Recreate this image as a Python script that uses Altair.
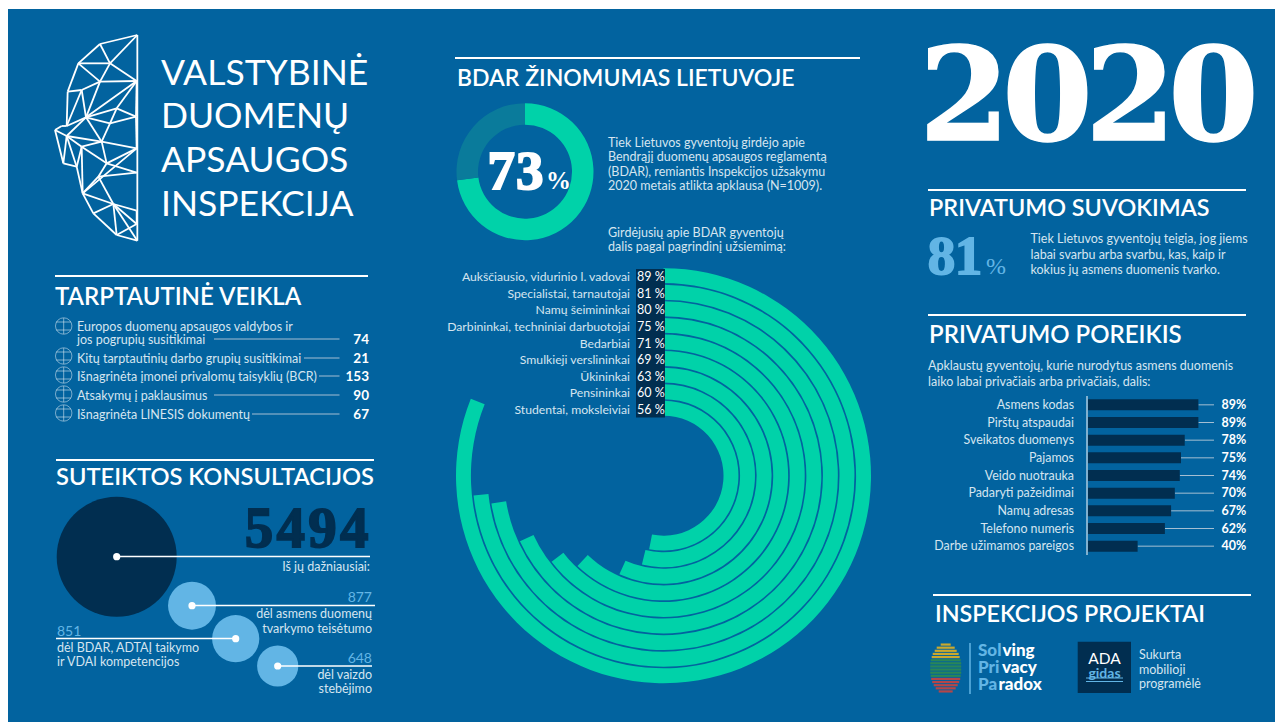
import altair as alt
import pandas as pd

BLUE = "#02639f"; TEAL = "#00d2a9"; NAVY = "#012e50"; SKY = "#62b5e5"; DIM = "#0a7b9b"
BODY = "#d5e5f0"; LEAD = "#a4bfd3"; WHITE = "#ffffff"
SANS = "Lato"; SERIF = "Liberation Serif"
OX, OY = 8, 9

# ---- data
awareness = [73, 27]
awareness_colors = [TEAL, DIM]
ring_names = ["Aukščiausio, vidurinio l. vadovai", "Specialistai, tarnautojai", "Namų šeimininkai",
              "Darbininkai, techniniai darbuotojai", "Bedarbiai", "Smulkieji verslininkai",
              "Ūkininkai", "Pensininkai", "Studentai, moksleiviai"]
ring_labels = [89, 81, 80, 75, 71, 69, 63, 60, 56]
ring_drawn = [89.5, 81, 80, 75.3, 71.3, 68.6, 62.6, 59.4, 58.6]
need_names = ["Asmens kodas", "Pirštų atspaudai", "Sveikatos duomenys", "Pajamos", "Veido nuotrauka",
              "Padaryti pažeidimai", "Namų adresas", "Telefono numeris", "Darbe užimamos pareigos"]
need_values = [89, 89, 78, 75, 74, 70, 67, 62, 40]
intl_values = [74, 21, 153, 90, 67]
intl_lines = [["Europos duomenų apsaugos valdybos ir", "jos pogrupių susitikimai"],
              ["Kitų tarptautinių darbo grupių susitikimai"],
              ["Išnagrinėta įmonei privalomų taisyklių (BCR)"],
              ["Atsakymų į paklausimus"],
              ["Išnagrinėta LINESIS dokumentų"]]
consult_values = [5494, 877, 851, 648]

# ---- layout
intl_y = [339, 358, 376, 395, 414]
intl_lead = [214, 304, 319, 214, 252]
intl_icon_y = [326, 356, 375, 394, 413]
consult_cx = [116.7, 192, 235.7, 277.7]
consult_cy = [556.7, 605.7, 638.7, 666]
logo_nodes = {
    "A": (412, 105), "B": (300, 132), "C": (235, 190), "D": (203, 275), "E": (200, 378), "F": (165, 390),
    "F2": (185, 378), "G": (190, 490), "H": (230, 500), "I": (248, 580), "J": (280, 640), "K": (350, 705),
    "L": (412, 722), "M": (330, 190), "N": (410, 243), "O": (300, 245), "P": (245, 270), "Q": (258, 352),
    "R": (350, 325), "S": (408, 350), "T": (330, 370), "U": (200, 408), "V": (305, 425), "W": (410, 445),
    "X": (245, 440), "Y": (320, 490), "Z": (410, 518), "AA": (295, 530), "AB": (340, 612), "AC": (410, 632),
    "AD": (410, 672),
}
logo_edges = "A-B B-C C-D D-E E-F2 F2-F F-G G-H H-I I-J J-K K-L A-L B-M M-A C-M C-O M-N O-N M-O D-P P-O P-E P-Q O-Q N-Q N-R N-S R-S R-Q Q-T T-R T-S Q-U E-Q U-V Q-V T-V V-W S-W U-X X-V U-H F-U U-G X-H X-Y V-Y Y-W Y-Z W-I X-I I-AA AA-Z I-AB AA-AB Y-AA AB-AC AB-J AB-AD AB-K AC-AD AD-K AB-L".split()
thumb_half = [5, 9, 11, 13, 14, 15, 15.5, 15.5, 15.5, 15.5, 15, 14.5, 13.5, 12, 10, 7]
thumb_cols = ["#e0b020"] * 5 + ["#2e8a50"] * 6 + ["#c8423f"] * 5


def one(**kw):
    return alt.Chart(pd.DataFrame({k: [v] for k, v in kw.items()} or {"a": [0]}))


def txt(s, x, y, size=12.5, color=BODY, font=SANS, weight=400, align="left", baseline="middle"):
    dy = 1 if baseline == "middle" else 0
    return one(t=s).mark_text(font=font, fontSize=size, fontWeight=weight, color=color, align=align,
                              baseline=baseline).encode(text="t:N", x=alt.value(x - OX), y=alt.value(y + dy - OY))


def hline(x1, x2, y, color=WHITE, w=1.5):
    return one().mark_rule(color=color, strokeWidth=w).encode(
        x=alt.value(x1 - OX), x2=alt.value(x2 - OX), y=alt.value(y - OY))


def vline(x, y1, y2, color=WHITE, w=1.5):
    return one().mark_rule(color=color, strokeWidth=w).encode(
        x=alt.value(x - OX), y=alt.value(y1 - OY), y2=alt.value(y2 - OY))


def box(x1, x2, y1, y2, color):
    return one().mark_rect(color=color).encode(
        x=alt.value(x1 - OX), x2=alt.value(x2 - OX), y=alt.value(y1 - OY), y2=alt.value(y2 - OY))


def fat(s, left, right, base, size, color, stroke, font=SERIF):
    df = pd.DataFrame({"i": list(range(len(s))), "c": list(s)})
    return alt.Chart(df).mark_text(font=font, fontWeight="bold", fontSize=size, color=color, stroke=color,
                                   strokeWidth=stroke, baseline="alphabetic").encode(
        text="c:N",
        x=alt.X("i:O", axis=None, scale=alt.Scale(domain=list(range(len(s))), range=[left - OX, right - OX],
                                                  paddingInner=0, paddingOuter=0)),
        y=alt.value(base - OY))


def head(s, x, y, size=23):
    return txt(s, x, y + 1, size=size, color=WHITE, weight=600)


L = []

# ---- logo
edge_df = pd.DataFrame([{"x": logo_nodes[e.split("-")[0]][0], "y": logo_nodes[e.split("-")[0]][1],
                         "x2": logo_nodes[e.split("-")[1]][0], "y2": logo_nodes[e.split("-")[1]][1]}
                        for e in logo_edges])
L.append(alt.Chart(edge_df).mark_rule(color=WHITE, strokeWidth=1.8).encode(
    x=alt.X("x:Q", axis=None, scale=alt.Scale(domain=[0, 1290], range=[-OX, 430 - OX])),
    x2="x2:Q",
    y=alt.Y("y:Q", axis=None, scale=alt.Scale(domain=[0, 780], range=[-OY, 260 - OY])),
    y2="y2:Q"))
for s, y in zip(["VALSTYBINĖ", "DUOMENŲ", "APSAUGOS", "INSPEKCIJA"], [73, 116, 160, 204]):
    L.append(txt(s, 161, y, size=35.5, color=WHITE, weight=400))

# ---- international
L.append(hline(55, 368, 276, w=2))
L.append(head("TARPTAUTINĖ VEIKLA", 55, 296, 24))
L.append(txt(intl_lines[0][0], 77, 326))
for lines, y, x0, v, g in zip(intl_lines, intl_y, intl_lead, intl_values, intl_icon_y):
    L.append(txt(lines[-1], 77, y))
    L.append(hline(x0, 339.5, y, color=LEAD, w=1))
    L.append(txt(str(v), 369, y, size=13.5, color=WHITE, weight=700, align="right"))
    L.append(one(a=1).mark_point(shape="circle", size=270, color=BODY, strokeWidth=0.8, opacity=0.7).encode(
        x=alt.value(63.7 - OX), y=alt.value(g - OY)))
    L.append(hline(56, 71, g - 4, color=BODY, w=0.6))
    L.append(hline(56, 71, g + 4, color=BODY, w=0.6))
    L.append(vline(63.7, g - 8, g + 8, color=BODY, w=0.6))

# ---- consultations
L.append(hline(56, 374, 460, w=2))
L.append(head("SUTEIKTOS KONSULTACIJOS", 56, 476, 23.7))
cdf = pd.DataFrame({"v": consult_values, "cx": [c - OX for c in consult_cx], "cy": [c - OY for c in consult_cy],
                    "c": [NAVY, SKY, SKY, SKY]})
L.append(alt.Chart(cdf).mark_circle(opacity=1).encode(
    x=alt.X("cx:Q", scale=None), y=alt.Y("cy:Q", scale=None),
    size=alt.Size("v:Q", legend=None, scale=alt.Scale(type="linear", domain=[0, 5494], range=[0, 14400])),
    color=alt.Color("c:N", scale=None)))
L.append(hline(116.7, 370, 556.5))
L.append(hline(192, 375, 605.5))
L.append(hline(56, 235.7, 638.5))
L.append(hline(277.7, 372, 666))
L.append(alt.Chart(cdf).mark_circle(opacity=1, size=52, color=WHITE).encode(
    x=alt.X("cx:Q", scale=None), y=alt.Y("cy:Q", scale=None)))
L.append(fat("5494", 243, 370, 547, 57, NAVY, 1.8))
L.append(txt("Iš jų dažniausiai:", 370, 566, align="right"))
L.append(txt("877", 372, 597, size=14, color=SKY, align="right"))
L.append(txt("dėl asmens duomenų", 372, 613, align="right"))
L.append(txt("tvarkymo teisėtumo", 372, 628, align="right"))
L.append(txt("851", 57, 631, size=14, color=SKY))
L.append(txt("dėl BDAR, ADTAĮ taikymo", 57, 647))
L.append(txt("ir VDAI kompetencijos", 57, 661))
L.append(txt("648", 372, 658, size=14, color=SKY, align="right"))
L.append(txt("dėl vaizdo", 372, 674, align="right"))
L.append(txt("stebėjimo", 372, 688, align="right"))

# ---- GDPR awareness
L.append(hline(455, 860, 58, w=2))
L.append(head("BDAR ŽINOMUMAS LIETUVOJE", 457, 77))
adf = pd.DataFrame({"s": [0, awareness[0]], "e": [awareness[0], sum(awareness)], "c": awareness_colors, "a": [47, 47], "b": [68.5, 68.5]})
L.append(alt.Chart(adf).mark_arc().encode(
    theta=alt.Theta("s:Q", stack=None, scale=alt.Scale(domain=[0, 100], range=[0, 6.28318530718])),
    theta2="e:Q",
    radius=alt.Radius("b:Q", scale=None), radius2="a:Q",
    color=alt.Color("c:N", scale=None),
    x=alt.value(525 - OX), y=alt.value(171.7 - OY)))
L.append(fat("73", 487, 544, 189, 55, WHITE, 2))
L.append(txt("%", 546, 189, size=25, color=WHITE, font=SERIF, weight=700, baseline="alphabetic"))
for s, y in zip(["Tiek Lietuvos gyventojų girdėjo apie", "Bendrąjį duomenų apsaugos reglamentą",
                 "(BDAR), remiantis Inspekcijos užsakymu", "2020 metais atlikta apklausa (N=1009)."],
                [142, 156, 171, 185]):
    L.append(txt(s, 608, y))
L.append(txt("Girdėjusių apie BDAR gyventojų", 608, 232))
L.append(txt("dalis pagal pagrindinį užsiemimą:", 608, 246))

# ---- radial bars
n = len(ring_names)
rdf = pd.DataFrame({"name": ring_names, "label": [f"{v} %" for v in ring_labels], "v": ring_drawn,
                    "zero": [0] * n, "r0": [n - 1 - i for i in range(n)], "r1": [n - 1 - i + 0.9 for i in range(n)]})
L.append(alt.Chart(rdf).mark_arc(color=TEAL).encode(
    theta=alt.Theta("zero:Q", stack=None, scale=alt.Scale(domain=[0, 100], range=[0, 5.69])),
    theta2="v:Q",
    radius=alt.Radius("r1:Q", scale=alt.Scale(type="linear", domain=[0, 8.9], range=[60, 207.5], zero=False)),
    radius2="r0:Q",
    x=alt.value(663.5 - OX), y=alt.value(475.7 - OY)))
L.append(box(636, 665, 269, 417.5, NAVY))
ry = alt.Y("name:N", axis=None, sort=None,
           scale=alt.Scale(domain=ring_names, range=[269 - OY, 418 - OY], paddingInner=0, paddingOuter=0))
L.append(alt.Chart(rdf).mark_text(font=SANS, fontSize=12.2, color=BODY, align="right").encode(
    text="name:N", y=ry, x=alt.value(630 - OX)))
L.append(alt.Chart(rdf).mark_text(font=SANS, fontSize=12.5, color=WHITE, align="left").encode(
    text="label:N", y=ry, x=alt.value(637 - OX)))

# ---- year
L.append(fat("2020", 923, 1255, 140, 130, WHITE, 1.5, font="DejaVu Serif"))

# ---- perception
L.append(hline(928, 1246, 190, w=2))
L.append(head("PRIVATUMO SUVOKIMAS", 929, 207, 23.4))
L.append(fat("81", 928, 982, 274, 55, SKY, 1.8))
L.append(txt("%", 986, 274, size=24, color=SKY, font=SERIF, baseline="alphabetic"))
for s, y in zip(["Tiek Lietuvos gyventojų teigia, jog jiems", "labai svarbu arba svarbu, kas, kaip ir",
                 "kokius jų asmens duomenis tvarko."], [238, 254, 269]):
    L.append(txt(s, 1030.5, y))

# ---- privacy need
L.append(hline(928, 1246, 315, w=2))
L.append(head("PRIVATUMO POREIKIS", 929, 334, 24))
L.append(txt("Apklaustų gyventojų, kurie nurodytus asmens duomenis", 928, 365))
L.append(txt("laiko labai privačiais arba privačiais, dalis:", 928, 381))
ndf = pd.DataFrame({"name": need_names, "v": need_values, "label": [f"{v}%" for v in need_values]})
nx = alt.X("v:Q", axis=None, stack=None, scale=alt.Scale(domain=[0, 100], range=[1088 - OX, 1212 - OX]))
ny = alt.Y("name:N", axis=None, sort=None,
           scale=alt.Scale(domain=need_names, range=[396 - OY, 555 - OY], paddingInner=0.38, paddingOuter=0.19))
L.append(alt.Chart(ndf).mark_rule(color=LEAD, strokeWidth=1).encode(x=nx, x2=alt.value(1214 - OX), y=ny))
L.append(alt.Chart(ndf).mark_bar(color=NAVY).encode(x=nx, y=ny))
L.append(vline(1087, 396, 555, w=1))
L.append(alt.Chart(ndf).mark_text(font=SANS, fontSize=12.4, color=BODY, align="right").encode(
    text="name:N", y=ny, x=alt.value(1074 - OX)))
L.append(alt.Chart(ndf).mark_text(font=SANS, fontSize=12.5, fontWeight=700, color=WHITE, align="left").encode(
    text="label:N", y=ny, x=alt.value(1221.5 - OX)))

# ---- projects
L.append(hline(933, 1251, 595, w=2))
L.append(head("INSPEKCIJOS PROJEKTAI", 935, 613, 23.3))
tdf = pd.DataFrame({"row": list(range(len(thumb_half))), "l": [-h for h in thumb_half], "r": thumb_half, "c": thumb_cols})
L.append(alt.Chart(tdf).mark_rule(strokeWidth=2.2, opacity=0.9).encode(
    x=alt.X("l:Q", axis=None, scale=alt.Scale(domain=[-16, 16], range=[929.7 - OX, 961.7 - OX])),
    x2="r:Q",
    y=alt.Y("row:O", axis=None, scale=alt.Scale(domain=list(range(len(thumb_half))), range=[643 - OY, 693 - OY], paddingInner=0, paddingOuter=0)),
    color=alt.Color("c:N", scale=None)))
L.append(vline(970, 643, 694, color=SKY, w=1.5))
for a, b, bx, y in [("Sol", "ving", 1002.5, 650), ("Pri", "vacy", 1002, 667), ("Pa", "radox", 998.5, 684)]:
    L.append(txt(a, 978, y, size=17, color=SKY, weight=900))
    L.append(txt(b, bx, y, size=17, color=WHITE, weight=900))
L.append(box(1077.7, 1131, 641.7, 693, NAVY))
L.append(txt("ADA", 1104.5, 657.5, size=15.5, color=WHITE, align="center"))
L.append(txt("gidas", 1104.5, 672.5, size=14, color=SKY, weight=700, align="center"))
L.append(hline(1086, 1123, 678, color=SKY, w=1.2))
L.append(hline(1086, 1123, 681.5, color=SKY, w=1.2))
for s, y in zip(["Sukurta", "mobilioji", "programėlė"], [654, 669, 683]):
    L.append(txt(s, 1139, y))

chart = alt.layer(*L).resolve_scale(
    x="independent", y="independent", theta="independent", radius="independent", color="independent", size="independent"
).properties(
    width=1267, height=713, background="white", padding={"left": 0, "top": 1, "right": 0, "bottom": 0},
    autosize=alt.AutoSizeParams(type="none")
).configure_view(fill=BLUE, strokeWidth=0)

chart.save("out.html", embed_options={"renderer": "svg", "actions": False})
